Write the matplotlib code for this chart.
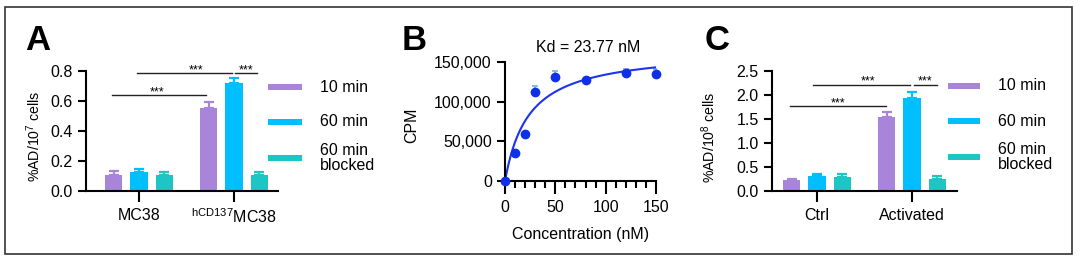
import numpy as np
import matplotlib
matplotlib.use("Agg")
import matplotlib.pyplot as plt
from matplotlib.patches import Rectangle
from matplotlib.ticker import FuncFormatter, MultipleLocator

plt.rcParams['font.family'] = ['Liberation Sans', 'DejaVu Sans']
plt.rcParams['mathtext.fontset'] = 'custom'
plt.rcParams['mathtext.rm'] = 'Liberation Sans'
plt.rcParams['mathtext.it'] = 'Liberation Sans:italic'

# ---------------- data ----------------
series_names = ["10 min", "60 min", "60 min\nblocked"]
series_colors = ["#A985D9", "#00BFFF", "#1EC5C5"]

a_groups = ["MC38", r"$^{\mathrm{hCD137}}$MC38"]
a_means = [[0.107, 0.551], [0.125, 0.722], [0.107, 0.107]]   # per series
a_errs = [[0.028, 0.045], [0.020, 0.034], [0.018, 0.021]]
a_sig_lines = [(-0.28, 0.71, 0.64), (-0.02, 0.98, 0.785), (1.01, 1.24, 0.785)]
a_sig_text_x = [0.19, 0.60, 1.125]

b_conc = [0, 10, 20, 30, 50, 80, 120, 150]
b_cpm = [0, 35000, 59300, 112000, 130700, 127000, 135800, 135000]
b_err = [0, 0, 0, 8300, 8400, 0, 5000, 6500]
b_kd = 23.77
b_bmax = 166000

c_groups = ["Ctrl", "Activated"]
c_means = [[0.23, 1.55], [0.32, 1.94], [0.29, 0.26]]
c_errs = [[0.03, 0.10], [0.03, 0.13], [0.06, 0.05]]
c_sig_lines = [(-0.28, 0.73, 1.77), (-0.04, 0.98, 2.21), (1.02, 1.26, 2.21)]
c_sig_text_x = [0.22, 0.54, 1.14]

# ---------------- figure ----------------
W, H = 1080, 269
fig = plt.figure(figsize=(W / 100, H / 100), dpi=100)

def rect_px(x0, x1, ytop, ybot):
    return [x0 / W, (H - ybot) / H, (x1 - x0) / W, (ybot - ytop) / H]

FS = 11.5
LW = 1.5

def style_axes(ax):
    for s in ['top', 'right']:
        ax.spines[s].set_visible(False)
    for s in ['left', 'bottom']:
        ax.spines[s].set_linewidth(LW)
    ax.tick_params(axis='both', width=LW, length=6, labelsize=FS, color='black')

def bar_panel(ax, groups, means, errs, sig_lines, sig_text_x, ylim, yticks, ylabel, xlim):
    x = np.arange(len(groups))
    width = 0.18
    offs = [-0.268, 0.0, 0.268]
    for i in range(3):
        ax.bar(x + offs[i], means[i], width, color=series_colors[i], zorder=2)
        ax.errorbar(x + offs[i], means[i], yerr=[np.zeros(len(groups)), errs[i]],
                    fmt='none', ecolor=series_colors[i], elinewidth=1.6,
                    capsize=3.6, capthick=1.6, zorder=1)
    ax.set_xlim(*xlim)
    ax.set_ylim(*ylim)
    ax.set_yticks(yticks)
    ax.set_xticks(x)
    ax.set_xticklabels(groups)
    ax.set_ylabel(ylabel, fontsize=10.2)
    for (x0, x1, yv), tx in zip(sig_lines, sig_text_x):
        ax.plot([x0, x1], [yv, yv], color='#222222', lw=1.0, clip_on=False)
        ax.text(tx, yv, "***", ha='center', va='baseline', fontsize=9, clip_on=False,
                transform=ax.transData)
    style_axes(ax)
    ax.tick_params(axis='x', length=8, pad=4)

def legend_px(xp0, xp1, xt, rows):
    for (yc, name, col) in rows:
        fig.add_artist(Rectangle((xp0 / W, (H - yc - 3) / H), (xp1 - xp0) / W, 6 / H,
                                 transform=fig.transFigure, color=col, lw=0))
    for (yc, name, col) in rows:
        fig.text(xt / W, (H - yc) / H, name, ha='left', va='center', fontsize=FS,
                 linespacing=1.05)

# Panel A
axA = fig.add_axes(rect_px(86, 278, 71, 191))
bar_panel(axA, a_groups, a_means, a_errs, a_sig_lines, a_sig_text_x,
          (0, 0.8), [0.0, 0.2, 0.4, 0.6, 0.8], r"%AD/10$^{7}$ cells", (-0.558, 1.463))
axA.yaxis.set_major_formatter(FuncFormatter(lambda v, p: f"{v:.1f}"))
axA.yaxis.set_label_coords(-0.225, 0.46)
legend_px(268, 302, 320, [(87, series_names[0], series_colors[0]),
                          (122, series_names[1], series_colors[1]),
                          (158, series_names[2], series_colors[2])])

# Panel B
axB = fig.add_axes(rect_px(505, 656, 62, 181))
xs = np.linspace(0, 150, 300)
axB.plot(xs, b_bmax * xs / (b_kd + xs), color='#1E32F0', lw=1.5, zorder=2)
axB.errorbar(b_conc, b_cpm, yerr=[np.zeros(len(b_err)), b_err], fmt='none',
             ecolor='#7AB6E8', elinewidth=1.3, capsize=2.5, capthick=1.3, zorder=1)
axB.plot(b_conc, b_cpm, 'o', color='#1030E8', markersize=6, zorder=3, clip_on=False)
axB.set_xlim(0, 150)
axB.set_ylim(0, 150000)
axB.set_xticks([0, 50, 100, 150])
axB.xaxis.set_minor_locator(MultipleLocator(10))
axB.set_yticks([0, 50000, 100000, 150000])
axB.yaxis.set_major_formatter(FuncFormatter(lambda v, p: f"{int(v):,}"))
style_axes(axB)
axB.tick_params(axis='x', which='major', length=9, pad=5)
axB.tick_params(axis='x', which='minor', length=5, width=LW)
axB.set_ylabel("CPM", fontsize=FS)
axB.yaxis.set_label_coords(-0.57, 0.47)
axB.set_xlabel("Concentration (nM)", fontsize=FS, labelpad=8)
fig.text(588 / W, (H - 52) / H, f"Kd = {b_kd} nM", ha='center', va='baseline', fontsize=FS)

# Panel C
axC = fig.add_axes(rect_px(772, 957, 71, 191))
bar_panel(axC, c_groups, c_means, c_errs, c_sig_lines, c_sig_text_x,
          (0, 2.5), [0.0, 0.5, 1.0, 1.5, 2.0, 2.5], r"%AD/10$^{8}$ cells", (-0.474, 1.474))
axC.yaxis.set_major_formatter(FuncFormatter(lambda v, p: f"{v:.1f}"))
axC.yaxis.set_label_coords(-0.29, 0.45)
legend_px(948, 980, 998, [(86, series_names[0], series_colors[0]),
                          (121, series_names[1], series_colors[1]),
                          (157, series_names[2], series_colors[2])])

# Panel letters
for lx, lab in [(25, "A"), (402, "B"), (705, "C")]:
    fig.text(lx / W, (H - 50) / H, lab, ha='left', va='baseline', fontsize=25,
             fontweight='bold')

# outer frame
fig.add_artist(Rectangle((5 / W, (H - 254) / H), (1072 - 5) / W, (254 - 7) / H,
                         transform=fig.transFigure, fill=False, edgecolor='#333333', lw=1.2))

fig.savefig("out.png", dpi=100)
